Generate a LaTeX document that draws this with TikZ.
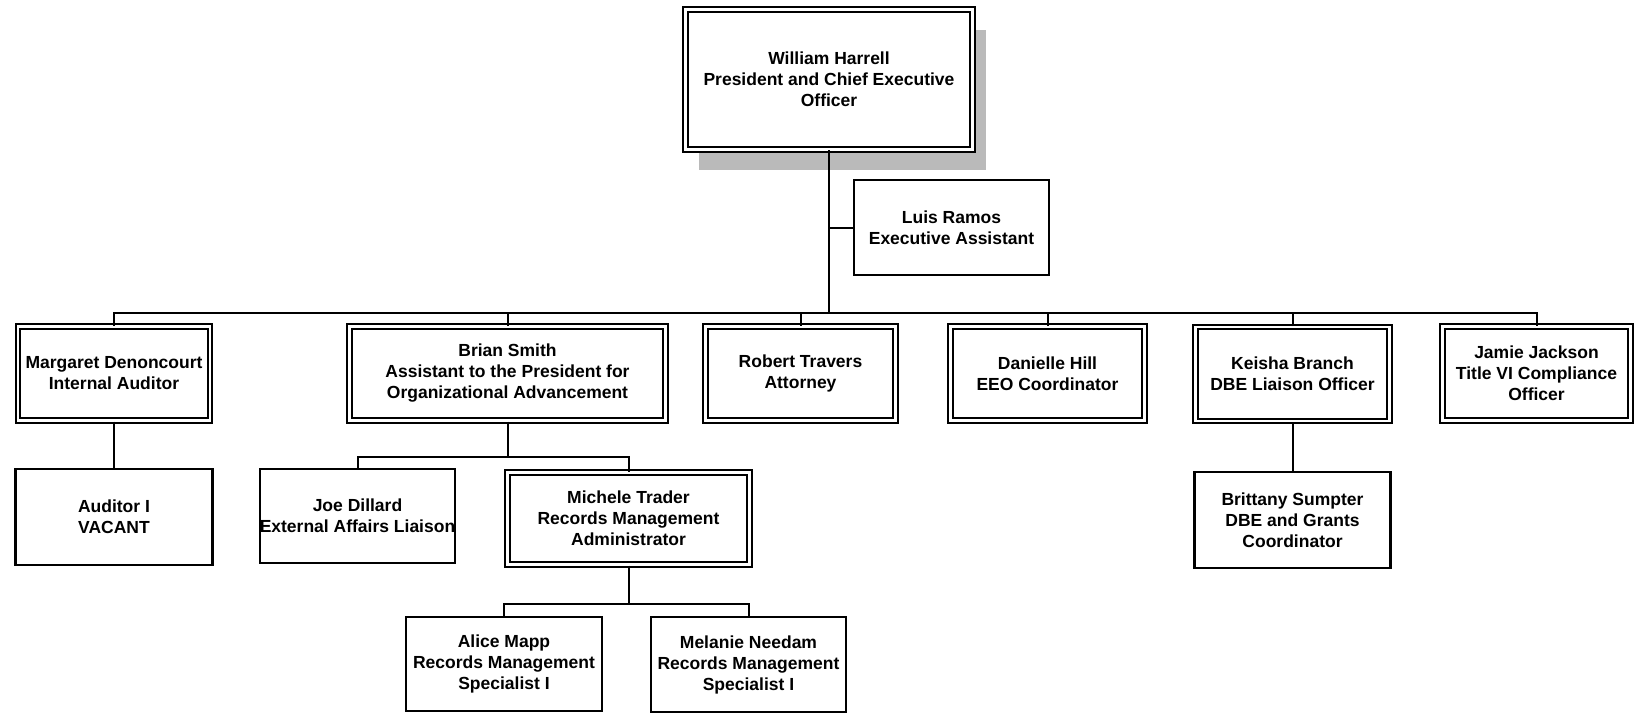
\documentclass[tikz,border=0pt]{standalone}
\usepackage{fontspec}
\setmainfont{Liberation Sans}
\usetikzlibrary{shadows}

\tikzset{
  post/.style={draw, line width=2.2pt, fill=white, align=center, inner sep=0pt,
    minimum width=195, minimum height=95,
    font=\bfseries\fontsize{17.5}{21}\selectfont},
  head/.style={post, double, double distance=2.2pt, line width=2pt,
    minimum width=190, minimum height=94},
  link/.style={line width=2pt},
}

\begin{document}
\begin{tikzpicture}[x=1pt,y=-1pt]
		\useasboundingbox (0,0) rectangle (1635,714);
		%%%%% TOP %%%%%
		\node[head, minimum width=287, minimum height=140,
		  drop shadow={shadow xshift=13pt, shadow yshift=-21pt, fill=black!27, opacity=1}]
		  (ceo) at (829,79.5) {William Harrell\\President and Chief Executive\\Officer};
		\node[post] (luis) at (951.5,227.5) {Luis Ramos\\Executive Assistant};
		
		%%%%% SECOND ROW %%%%%
		\node[head, minimum width=192] (margaret) at (114,373.5) {Margaret Denoncourt\\Internal Auditor};
		\node[head, minimum width=316] (brian) at (507.5,373.5) {Brian Smith\\Assistant to the President for\\Organizational Advancement};
		\node[head] (robert) at (800.5,373.5) {Robert Travers\\Attorney};
		\node[head, minimum width=194] (danielle) at (1047.5,373.5) {Danielle Hill\\EEO Coordinator};
		\node[head, minimum width=194] (keisha) at (1292.5,374) {Keisha Branch\\DBE Liaison Officer};
		\node[head, minimum width=188] (jamie) at (1536.5,373.5) {Jamie Jackson\\Title VI Compliance\\Officer};
		
		%%%%% THIRD ROW %%%%%
		\node[post, minimum width=197, minimum height=96] (auditor) at (114,517) {Auditor I\\VACANT};
		\node[post, minimum width=193, minimum height=94] (joe) at (357.5,516) {Joe Dillard\\External Affairs Liaison};
		\node[head, minimum width=242, minimum height=92] (michele) at (628.5,518.5) {Michele Trader\\Records Management\\Administrator};
		\node[post, minimum width=196, minimum height=96] (brittany) at (1292.5,520) {Brittany Sumpter\\DBE and Grants\\Coordinator};
		
		%%%%% FOURTH ROW %%%%%
		\node[post, minimum width=196, minimum height=94] (alice) at (504,664) {Alice Mapp\\Records Management\\Specialist I};
		\node[post] (melanie) at (748.5,664.5) {Melanie Needam\\Records Management\\Specialist I};
		
		%%%%% LINES %%%%%
		\coordinate (bus) at (829,313);
		\coordinate (bsplit) at (507.5,457);
		\coordinate (msplit) at (628.5,604);
		
		\draw[link] (ceo.south) -- (ceo.south |- bus);
		\draw[link] (ceo.south |- luis.west) -- (luis.west);
		\draw[link] (margaret.north) |- (bus) -| (jamie.north);
		\foreach \n in {brian,robert,danielle,keisha}
		  \draw[link] (\n.north) -- (\n.north |- bus);
		
		\draw[link] (margaret.south) -- (auditor.north);
		\draw[link] (brian.south) -- (bsplit);
		\draw[link] (joe.north) |- (bsplit) -| (michele.north);
		\draw[link] (michele.south) -- (msplit);
		\draw[link] (alice.north) |- (msplit) -| (melanie.north);
		\draw[link] (keisha.south) -- (brittany.north);
	\end{tikzpicture}
\end{document}
